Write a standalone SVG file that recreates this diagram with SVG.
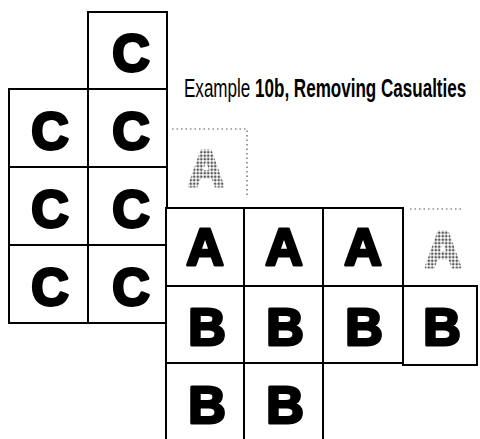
<svg xmlns="http://www.w3.org/2000/svg" width="480" height="439" viewBox="0 0 480 439">
<style>
.box{fill:#fff;stroke:#000;stroke-width:2}
.ln{fill:none;stroke:#000;stroke-width:2}
.dot{fill:none;stroke:#555;stroke-width:1.2;stroke-dasharray:1.5 3}
.big{font-family:"Liberation Sans",Arial,sans-serif;font-weight:bold;font-size:52px;text-anchor:middle;fill:#000;stroke:#000;stroke-width:3;stroke-linejoin:round}
.ghost{font-family:"Liberation Sans",Arial,sans-serif;font-weight:bold;font-size:50px;text-anchor:middle;fill:url(#stip);stroke:url(#stip);stroke-width:3;stroke-linejoin:round}
.t{font-family:"Liberation Sans",Arial,sans-serif;font-size:25px;fill:#000}
</style>
<defs>
<pattern id="stip" width="3.5" height="3.5" patternUnits="userSpaceOnUse">
<rect width="3.5" height="3.5" fill="#fff"/>
<circle cx="1.75" cy="1.75" r="1.3" fill="#555"/>
</pattern>
</defs>
<rect width="480" height="439" fill="#fff"/>
<g id="c-grid">
<g id="c1"><rect class="box" x="88" y="12" width="79" height="77"/><text class="big" x="131" y="71">C</text></g>
<g id="c2"><rect class="box" x="9" y="89" width="79" height="78"/><text class="big" x="50" y="149">C</text></g>
<g id="c3"><rect class="box" x="88" y="89" width="79" height="78"/><text class="big" x="131" y="149">C</text></g>
<g id="c4"><rect class="box" x="9" y="167" width="79" height="78"/><text class="big" x="50" y="227">C</text></g>
<g id="c5"><rect class="box" x="88" y="167" width="79" height="78"/><text class="big" x="131" y="227">C</text></g>
<g id="c6"><rect class="box" x="9" y="245" width="79" height="78"/><text class="big" x="50" y="305">C</text></g>
<g id="c7"><rect class="box" x="88" y="245" width="79" height="78"/><text class="big" x="131" y="305">C</text></g>
</g>
<g id="title">
<text class="t" transform="translate(184 97) scale(0.72 1)" x="0" y="0" textLength="392" lengthAdjust="spacingAndGlyphs">Example <tspan font-weight="bold">10b, Removing Casualties</tspan></text>
</g>
<g id="ghost-a1">
<path class="dot" d="M172 129H247V195"/>
<text class="ghost" x="206" y="186">A</text>
</g>
<g id="ab-grid">
<g id="a1"><rect class="box" x="166" y="208" width="78" height="78"/><text class="big" x="205" y="265">A</text></g>
<g id="a2"><rect class="box" x="244" y="208" width="79" height="78"/><text class="big" x="284" y="265">A</text></g>
<g id="a3"><rect class="box" x="323" y="208" width="80" height="78"/><text class="big" x="363" y="265">A</text></g>
<g id="ghost-a2"><path class="dot" d="M410 209H462"/><text class="ghost" x="443" y="267">A</text></g>
<g id="b1"><rect class="box" x="166" y="286" width="78" height="77"/><text class="big" x="207" y="345">B</text></g>
<g id="b2"><rect class="box" x="244" y="286" width="79" height="77"/><text class="big" x="285" y="345">B</text></g>
<g id="b3"><rect class="box" x="323" y="286" width="80" height="77"/><text class="big" x="364" y="345">B</text></g>
<g id="b4"><rect class="box" x="403" y="286" width="74" height="79"/><text class="big" x="442" y="345">B</text></g>
<g id="b5"><path class="ln" d="M166 439V363H244V439"/><text class="big" x="207" y="423">B</text></g>
<g id="b6"><path class="ln" d="M244 363H323V439"/><text class="big" x="285" y="423">B</text></g>
</g>
</svg>
